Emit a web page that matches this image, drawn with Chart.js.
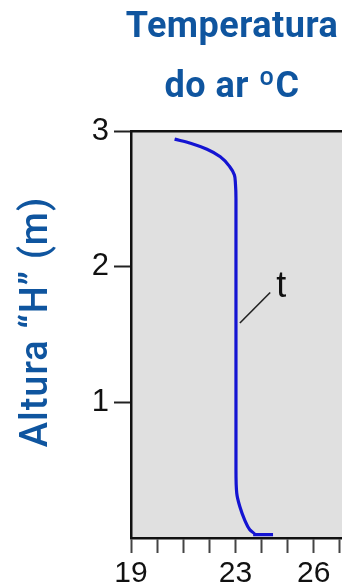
<!DOCTYPE html>
<html lang="pt">
<head>
<meta charset="utf-8">
<title>Temperatura do ar</title>
<script src="https://cdn.jsdelivr.net/npm/chart.js"></script>
<style>
  html, body { margin: 0; padding: 0; background: #fff; overflow: hidden; }
  #wrap { width: 342px; height: 587px; overflow: hidden; }
  canvas { display: block; }
</style>
</head>
<body>
<div id="wrap"><canvas id="perfil" width="369" height="587"></canvas></div>
<script>
// perfil vertical da temperatura do ar (altura em m, temperatura em ºC)
const alturas = [2.94, 2.91, 2.865, 2.81, 2.74, 2.675, 2.61, 2.5, 1.5, 0.5, 0.33, 0.23, 0.13, 0.06, 0.025, 0.025];
const temperaturas = [20.67, 21.28, 21.91, 22.42, 22.77, 22.96, 23.0, 23.02, 23.02, 23.02, 23.05, 23.17, 23.36, 23.55, 23.74, 24.44];

// linha de chamada da etiqueta "t"
const chamadaT = [23.17, 24.33];
const chamadaH = [1.585, 1.81];
const etiquetaT = { texto: 't', x: 24.75, y: 1.78 };

const xTicks = [19, 20, 21, 22, 23, 24, 25, 26, 27, 28];
const xTickLabels = [19, 23, 26];
const yTickLabels = [1, 2, 3];

const titulo = ['Temperatura', 'do ar ºC'];
const tituloY = 'Altura “H” (m)';

const AZUL = '#0f559f';

function toPoints(xs, ys) {
    return xs.map((x, i) => ({ x: x, y: ys[i] }));
}

// fundo cinzento da área do gráfico
const fundo = {
    id: 'fundo',
    beforeDraw(chart) {
        const { ctx, chartArea: a } = chart;
        ctx.save();
        ctx.fillStyle = '#e0e0e0';
        ctx.fillRect(a.left, a.top, a.right - a.left, a.bottom - a.top);
        ctx.restore();
    }
};

// títulos e etiqueta da curva
const textos = {
    id: 'textos',
    afterDraw(chart) {
        const ctx = chart.ctx;
        const sx = chart.scales.x, sy = chart.scales.y;
        ctx.save();

        ctx.fillStyle = AZUL;
        ctx.textAlign = 'center';
        ctx.textBaseline = 'alphabetic';
        ctx.font = 'bold 36px Roboto';
        ctx.letterSpacing = '0.5px';
        ctx.fillText(titulo[0], 232, 37);
        ctx.fillText(titulo[1], 232, 97);

        ctx.translate(37, 322);
        ctx.rotate(-Math.PI / 2);
        ctx.textBaseline = 'middle';
        ctx.font = '500 38px Roboto';
        ctx.letterSpacing = '1px';
        ctx.fillText(tituloY, 0, 0);
        ctx.setTransform(1, 0, 0, 1, 0, 0);

        ctx.letterSpacing = '0px';
        ctx.fillStyle = '#111';
        ctx.textBaseline = 'alphabetic';
        ctx.font = '36px "Liberation Sans"';
        ctx.fillText(etiquetaT.texto, sx.getPixelForValue(etiquetaT.x), sy.getPixelForValue(etiquetaT.y));
        ctx.restore();
    }
};

function initChart() {
    const ctx = document.getElementById('perfil').getContext('2d');
    return new Chart(ctx, {
        type: 'line',
        data: {
            datasets: [{
                data: toPoints(temperaturas, alturas),
                borderColor: '#1414d2',
                borderWidth: 3.2,
                pointRadius: 0,
                indexAxis: 'y',
                cubicInterpolationMode: 'monotone',
                xAxisID: 'x',
                yAxisID: 'y'
            }, {
                data: toPoints(chamadaT, chamadaH),
                borderColor: '#222',
                borderWidth: 1.6,
                pointRadius: 0,
                tension: 0,
                xAxisID: 'x',
                yAxisID: 'y'
            }]
        },
        options: {
            responsive: false,
            animation: false,
            layout: { padding: 0 },
            plugins: { legend: { display: false }, tooltip: { enabled: false }, title: { display: false } },
            scales: {
                x: {
                    type: 'linear',
                    position: 'bottom',
                    min: 19,
                    max: 28,
                    afterBuildTicks: s => { s.ticks = xTicks.map(v => ({ value: v })); },
                    afterFit: s => { s.height = 49; },
                    ticks: {
                        autoSkip: false,
                        maxRotation: 0,
                        padding: 3,
                        color: '#111',
                        font: { family: '"Liberation Sans"', size: 30 },
                        callback: v => xTickLabels.includes(v) ? String(v) : ''
                    },
                    grid: { drawOnChartArea: false, tickLength: 15, tickWidth: 2, tickColor: '#444' },
                    border: { display: true, width: 2.5, color: '#111' }
                },
                x2: {
                    type: 'linear',
                    position: 'top',
                    min: 19,
                    max: 28,
                    afterFit: s => { s.height = 131; },
                    ticks: { display: false },
                    grid: { display: false },
                    border: { display: true, width: 2.5, color: '#111' }
                },
                y: {
                    type: 'linear',
                    position: 'left',
                    min: 0,
                    max: 3,
                    afterBuildTicks: s => { s.ticks = yTickLabels.map(v => ({ value: v })); },
                    afterFit: s => { s.width = 131; },
                    ticks: {
                        padding: 5,
                        color: '#111',
                        font: { family: '"Liberation Sans"', size: 31 }
                    },
                    grid: { drawOnChartArea: false, tickLength: 17, tickWidth: 2, tickColor: '#222' },
                    border: { display: true, width: 2.5, color: '#111' }
                }
            }
        },
        plugins: [fundo, textos]
    });
}

initChart();
</script>
</body>
</html>
